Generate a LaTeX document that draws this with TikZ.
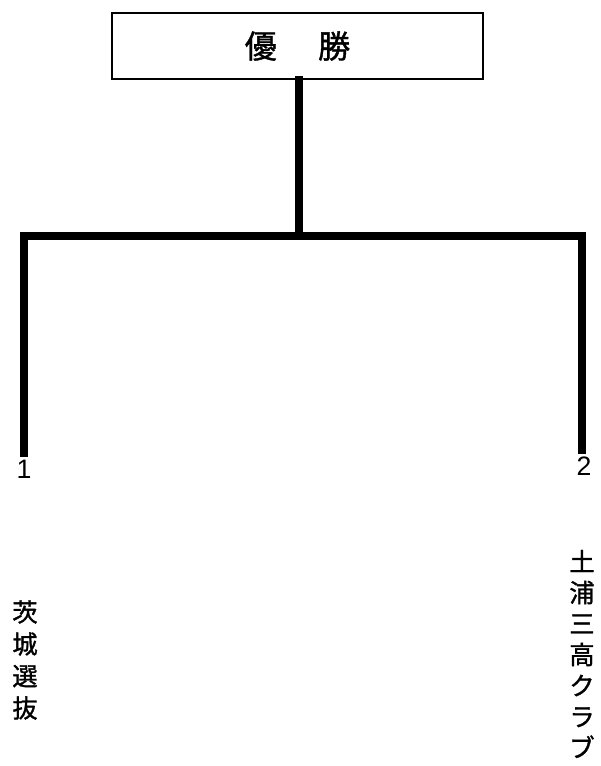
\documentclass[tikz,border=0pt]{standalone}
\usepackage{fontspec}
\setmainfont{Liberation Sans}
\newfontfamily\cjk[FakeBold=1.2]{Noto Sans CJK JP}
\begin{document}
\begin{tikzpicture}[x=0.75pt,y=-0.75pt,
  bar/.style={line width=6pt,line join=miter,line cap=rect},
  titlebox/.style={draw,line width=1.5pt,minimum width=278pt,minimum height=49.5pt,inner sep=0pt,font=\cjk\fontsize{24}{28}\selectfont},
  seed/.style={inner sep=0pt,font=\fontsize{20}{22}\selectfont},
  team/.style={inner sep=0pt,align=center,font=\cjk\fontsize{19}{24}\selectfont}]
\useasboundingbox (0,0) rectangle (600,766);
\node[titlebox] (win) at (297.5,46) {優\hspace{31pt}勝};
\coordinate (mid) at (299,236);
\coordinate (lt) at (23.5,236);
\coordinate (rt) at (581.5,236);
\coordinate (lb) at (23.5,453);
\coordinate (rb) at (581.5,450);
\draw[bar] (win.south -| mid) -- (mid);
\draw[bar] (lb) -- (lt) -- (rt) -- (rb);
\node[seed] (s1) at (24,469) {1};
\node[seed] (s2) at (584,466) {2};
\node[team] (t1) at (25,660) {茨\\城\\選\\抜};
\node[team,font=\cjk\fontsize{19}{23.25}\selectfont] (t2) at (582,654) {土\\浦\\三\\高\\ク\\ラ\\ブ};
\end{tikzpicture}
\end{document}
